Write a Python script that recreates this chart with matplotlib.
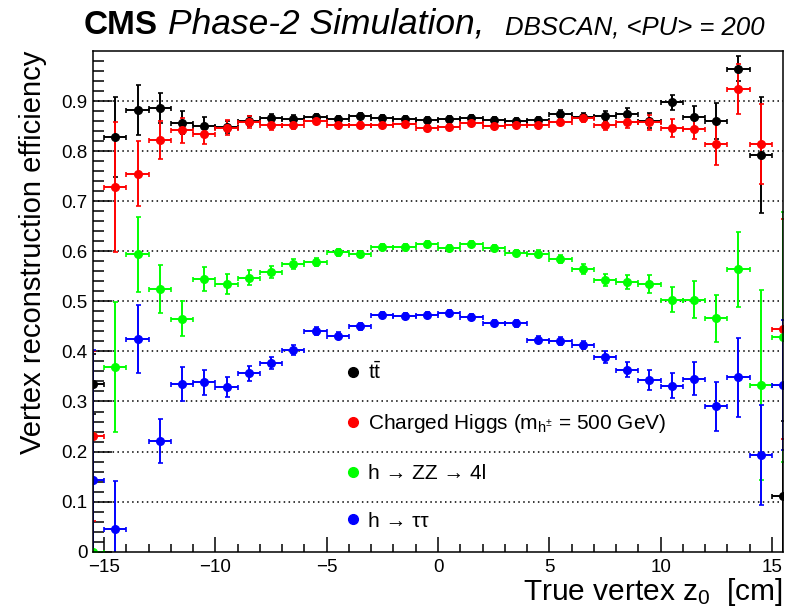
import numpy as np
import matplotlib
matplotlib.use("Agg")
import matplotlib.pyplot as plt
from matplotlib.lines import Line2D

plt.rcParams['font.family'] = ['Liberation Sans', 'DejaVu Sans']
plt.rcParams['mathtext.fontset'] = 'custom'
plt.rcParams['mathtext.rm'] = 'Liberation Sans'
plt.rcParams['mathtext.it'] = 'Liberation Sans:italic'
plt.rcParams['axes.unicode_minus'] = True

# bin centres in z0 (1 cm bins, edge bins half outside the frame)
z_centres = np.arange(-15.5, 16.0, 1.0)

eff_ttbar = [0.335, 0.828, 0.883, 0.887, 0.857, 0.850, 0.849, 0.860, 0.867, 0.865, 0.868,
             0.865, 0.871, 0.867, 0.865, 0.863, 0.865, 0.867, 0.863, 0.861, 0.862,
             0.875, 0.868, 0.871, 0.875, 0.861, 0.898, 0.869, 0.861, 0.965, 0.793, 0.111]
err_ttbar = [0.06, 0.08, 0.05, 0.03, 0.023, 0.018, 0.012, 0.01, 0.008, 0.007, 0.006,
             0.005, 0.005, 0.005, 0.005, 0.005, 0.005, 0.005, 0.005, 0.005, 0.006,
             0.007, 0.008, 0.01, 0.012, 0.015, 0.015, 0.022, 0.036, 0.025, 0.116, 0.15]

eff_higgs = [0.231, 0.729, 0.755, 0.823, 0.842, 0.835, 0.847, 0.859, 0.852, 0.852, 0.861,
             0.853, 0.852, 0.853, 0.855, 0.846, 0.848, 0.857, 0.851, 0.852, 0.853,
             0.859, 0.867, 0.852, 0.858, 0.858, 0.846, 0.845, 0.815, 0.925, 0.814, 0.445]
err_higgs = [0.17, 0.13, 0.065, 0.038, 0.025, 0.02, 0.015, 0.012, 0.01, 0.008, 0.007,
             0.006, 0.006, 0.006, 0.006, 0.006, 0.006, 0.006, 0.006, 0.006, 0.006,
             0.007, 0.008, 0.01, 0.012, 0.015, 0.018, 0.02, 0.043, 0.05, 0.08, 0.22]

eff_zz = [0.0, 0.369, 0.594, 0.524, 0.465, 0.544, 0.535, 0.547, 0.559, 0.575, 0.579,
          0.598, 0.594, 0.609, 0.609, 0.615, 0.606, 0.615, 0.607, 0.597, 0.595,
          0.585, 0.564, 0.543, 0.539, 0.535, 0.503, 0.503, 0.466, 0.564, 0.333, 0.429]
err_zz = [0.237, 0.13, 0.075, 0.048, 0.035, 0.024, 0.02, 0.015, 0.012, 0.01, 0.008,
          0.007, 0.006, 0.006, 0.006, 0.006, 0.006, 0.006, 0.006, 0.006, 0.007,
          0.008, 0.01, 0.012, 0.014, 0.018, 0.025, 0.037, 0.047, 0.075, 0.19, 0.25]

eff_tautau = [0.143, 0.045, 0.425, 0.221, 0.335, 0.338, 0.329, 0.356, 0.377, 0.403, 0.441,
              0.431, 0.450, 0.473, 0.471, 0.473, 0.477, 0.469, 0.456, 0.456, 0.423,
              0.421, 0.413, 0.389, 0.363, 0.343, 0.331, 0.345, 0.290, 0.348, 0.193, 0.333]
err_tautau = [0.26, 0.097, 0.068, 0.044, 0.034, 0.025, 0.02, 0.015, 0.012, 0.01, 0.008,
              0.007, 0.007, 0.006, 0.006, 0.006, 0.006, 0.006, 0.006, 0.007, 0.007,
              0.008, 0.008, 0.012, 0.015, 0.02, 0.025, 0.033, 0.048, 0.078, 0.1, 0.13]

samples = [
    (eff_ttbar, err_ttbar, '#000000', r'$\mathrm{t\bar{t}}$'),
    (eff_higgs, err_higgs, '#ff0000', r'Charged Higgs (m$_{\mathrm{h^{\pm}}}$ = 500 GeV)'),
    (eff_zz, err_zz, '#00ff00', 'h → ZZ → 4l'),
    (eff_tautau, err_tautau, '#0000ff', 'h → ττ'),
]

fig = plt.figure(figsize=(8.07, 6.10), dpi=100)
ax = fig.add_axes([93 / 807, 58.3 / 610, 690 / 807, 500.7 / 610])

for eff, err, col, lab in samples:
    ax.errorbar(z_centres, eff, xerr=0.5, yerr=err, fmt='o', color=col,
                markersize=5.5, elinewidth=1.4, capsize=1.8, capthick=1.2)

# dotted horizontal grid
for yg in np.arange(0.1, 0.95, 0.1):
    ax.axhline(yg, color='black', linestyle=(0, (1, 2.2)), linewidth=1.1, zorder=0)

ax.set_xlim(-15.5, 15.5)
ax.set_ylim(0, 1.0)
ax.set_xticks([-15, -10, -5, 0, 5, 10, 15])
ax.set_xticks(np.arange(-15, 16, 1), minor=True)
ax.set_yticks(np.arange(0, 0.95, 0.1))
ax.set_yticklabels(['0', '0.1', '0.2', '0.3', '0.4', '0.5', '0.6', '0.7', '0.8', '0.9'])
ax.set_yticks(np.arange(0, 1.0, 0.02), minor=True)
ax.tick_params(axis='x', which='major', direction='in', length=11, width=1.1,
               labelsize=13.5, pad=5)
ax.tick_params(axis='x', which='minor', direction='in', length=5.5, width=1.1)
ax.tick_params(axis='y', which='major', direction='in', length=14, width=1.1,
               labelsize=13.5, pad=4)
ax.tick_params(axis='y', which='minor', direction='in', length=8, width=1.1)
for sp in ax.spines.values():
    sp.set_linewidth(1.1)

ax.set_ylabel('Vertex reconstruction efficiency', fontsize=21, loc='top', labelpad=10)
ax.set_xlabel(r'True vertex z$_{0}$  [cm]', fontsize=21.5, loc='right', labelpad=0)

handles = [Line2D([0], [0], marker='o', color=c, linestyle='none', markersize=7)
           for _, _, c, _ in samples]
labels = [lab for _, _, _, lab in samples]
ax.legend(handles, labels, loc='upper left', bbox_to_anchor=(334 / 807, 1 - 351 / 610),
          bbox_transform=fig.transFigure, frameon=False, fontsize=15,
          handlelength=0.8, handletextpad=0.35, labelspacing=1.38, borderpad=0)

fig.text(84 / 807, 1 - 34 / 610, 'CMS', fontsize=24, fontweight='bold')
fig.text(168 / 807, 1 - 34 / 610, 'Phase-2 Simulation,', fontsize=25.5, style='italic')
fig.text(505 / 807, 1 - 34 / 610, 'DBSCAN, <PU> = 200', fontsize=18.5, style='italic')

fig.savefig('out.png', dpi=100)
